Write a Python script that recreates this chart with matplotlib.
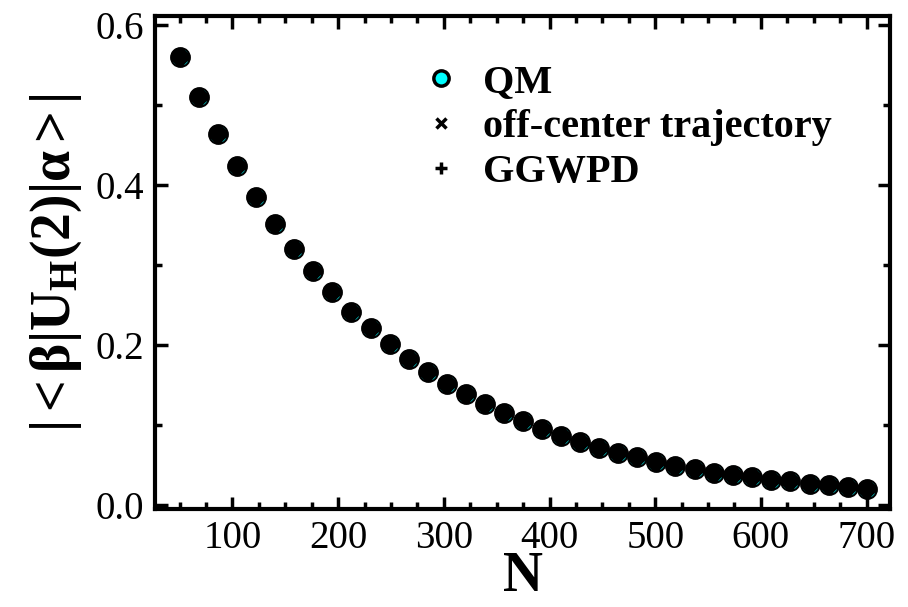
import matplotlib
matplotlib.use('Agg')
import matplotlib.pyplot as plt
from matplotlib.lines import Line2D
from matplotlib.ticker import MultipleLocator

plt.rcParams['font.family'] = ['Liberation Serif', 'DejaVu Serif']
plt.rcParams['mathtext.fontset'] = 'custom'
plt.rcParams['mathtext.rm'] = 'Liberation Serif'
plt.rcParams['mathtext.bf'] = 'Liberation Serif:bold'
plt.rcParams['mathtext.it'] = 'Liberation Serif:italic'

# data
N = [50, 68, 86, 104, 122, 140, 158, 176, 194, 212, 231, 249, 267, 285, 303,
     321, 339, 357, 375, 393, 411, 429, 447, 465, 483, 501, 519, 538, 556, 574,
     592, 610, 628, 646, 664, 682, 700]
amp = [0.559, 0.510, 0.464, 0.423, 0.385, 0.351, 0.320, 0.292, 0.266, 0.242,
       0.221, 0.202, 0.183, 0.167, 0.152, 0.139, 0.126, 0.115, 0.105, 0.095,
       0.087, 0.079, 0.072, 0.066, 0.060, 0.054, 0.049, 0.045, 0.041, 0.038,
       0.035, 0.032, 0.030, 0.027, 0.025, 0.023, 0.021]
labels = ['QM', 'off-center trajectory', 'GGWPD']

fig = plt.figure(figsize=(9.08, 6.07), dpi=100)
ax = fig.add_axes([0.171, 0.162, 0.809, 0.812])

# QM circles, then the two semiclassical results drawn on top
ax.plot(N, amp, 'o', ms=13.5, mfc='cyan', mec='black', mew=1.5, ls='none')
ax.plot(N, amp, 'x', ms=9, mec='black', mew=6, ls='none')
ax.plot(N, amp, '+', ms=13, mec='black', mew=6, ls='none')

ax.set_xlim(27, 722)
ax.set_ylim(-0.004, 0.611)
ax.xaxis.set_major_locator(MultipleLocator(100))
ax.xaxis.set_minor_locator(MultipleLocator(25))
ax.yaxis.set_major_locator(MultipleLocator(0.2))
ax.yaxis.set_minor_locator(MultipleLocator(0.1))
ax.set_xticks([100, 200, 300, 400, 500, 600, 700])
ax.set_yticks([0.0, 0.2, 0.4, 0.6])
ax.set_yticklabels(['0.0', '0.2', '0.4', '0.6'])

ax.tick_params(which='both', direction='in', top=True, right=True,
               labelsize=28, width=2.5, pad=8)
ax.tick_params(which='major', length=9)
ax.tick_params(which='minor', length=5)
for s in ax.spines.values():
    s.set_linewidth(3)

ax.set_xlabel('N', fontsize=40, fontweight='bold', labelpad=-4)
ax.set_ylabel(r'$\mathbf{|{<}\beta|U_{H}(2)|\alpha{>}|}$', fontsize=40, labelpad=8)

handles = [
    Line2D([], [], marker='o', ls='none', ms=11, mfc='cyan', mec='black', mew=2.5),
    Line2D([], [], marker='x', ls='none', ms=7, mec='black', mew=2.5),
    Line2D([], [], marker='+', ls='none', ms=9, mec='black', mew=2.5),
]
ax.legend(handles, labels, loc='upper left', bbox_to_anchor=(0.328, 0.944),
          frameon=False, prop={'size': 29, 'weight': 'bold'}, borderpad=0,
          handletextpad=0.45, labelspacing=0.2, handlelength=1.2)

fig.savefig('out.png', dpi=100)
